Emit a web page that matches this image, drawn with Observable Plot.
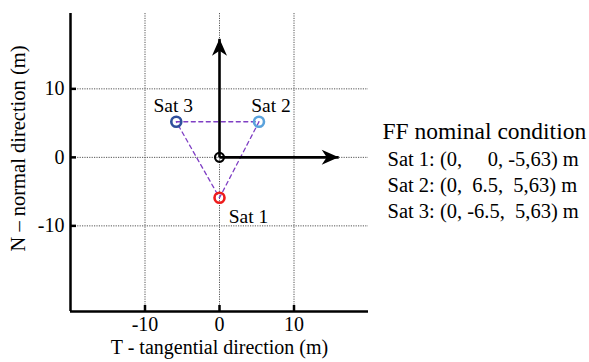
<!DOCTYPE html>
<html>
<head>
<meta charset="utf-8">
<script src="https://cdn.jsdelivr.net/npm/d3@7"></script>
<script src="https://cdn.jsdelivr.net/npm/@observablehq/plot@0.6"></script>
<style>
  html, body { margin: 0; padding: 0; background: #fff; }
  #chart svg { display: block; }
</style>
</head>
<body>
<div id="chart"></div>
<script>
// ---- data ----
const xDomain = [-20, 20];
const yDomain = [-22.5, 21];
const xTicks = [-10, 0, 10];
const yTicks = [-10, 0, 10];
const xLabel = "T - tangential direction (m)";
const yLabel = "N \u2013 normal direction (m)";

const satNames = ["Sat 1", "Sat 2", "Sat 3"];
const satT = [0, 5.3, -5.8];
const satN = [-5.9, 5.2, 5.2];
const satColors = ["#ee1c1c", "#5aa2dc", "#2f4f9c"];

// triangle order: Sat 3 -> Sat 2 -> Sat 1 -> Sat 3
const triOrder = [2, 1, 0, 2];

// reference frame origin and arrow tips
const originT = [0];
const originN = [0];
const arrowTipT = [0, 16];
const arrowTipN = [17.3, 0];
const arrowDir = [0, 90];

const legendTitle = "FF nominal condition";
const legendLines = [
  "Sat 1: (0,\u00a0\u00a0\u00a0\u00a0 0, -5,63) m",
  "Sat 2: (0,\u00a0 6.5,\u00a0 5,63) m",
  "Sat 3: (0, -6.5,\u00a0 5,63) m"
];

// ---- derived tables ----
const sats = satNames.map((name, i) => ({name, t: satT[i], n: satN[i], color: satColors[i]}));
const tri = triOrder.map(i => sats[i]);
const arrows = arrowTipT.map((t, i) => ({t0: originT[0], n0: originN[0], t, n: arrowTipN[i], rot: arrowDir[i]}));

const headSymbol = {
  draw(context) {
    context.moveTo(0, 0);
    context.lineTo(-7.5, 17);
    context.lineTo(0, 12);
    context.lineTo(7.5, 17);
    context.closePath();
  }
};

const font = "'Liberation Serif', 'Times New Roman', serif";
const fmt = d => String(d);

const chart = Plot.plot({
  width: 589,
  height: 362,
  marginLeft: 70,
  marginRight: 221,
  marginTop: 13,
  marginBottom: 51,
  style: {fontFamily: font, background: "#fff", color: "#000"},
  x: {domain: xDomain, label: null},
  y: {domain: yDomain, label: null},
  marks: [
    Plot.gridX(xTicks, {stroke: "#555", strokeOpacity: 1, strokeDasharray: "1.2,1.2", strokeWidth: 1}),
    Plot.gridY(yTicks, {stroke: "#555", strokeOpacity: 1, strokeDasharray: "1.2,1.2", strokeWidth: 1}),
    // tick marks (inward)
    Plot.axisX({ticks: xTicks, tickSize: -6, strokeWidth: 2.5, tickFormat: () => "", label: null}),
    Plot.axisY({ticks: yTicks, tickSize: -6, strokeWidth: 2.5, tickFormat: () => "", label: null}),
    // tick labels
    Plot.axisX({ticks: xTicks, tickSize: 0, tickPadding: 5, fontSize: 20, tickFormat: fmt, label: null}),
    Plot.axisY({ticks: yTicks, tickSize: 0, tickPadding: 6, fontSize: 20, tickFormat: fmt, label: null}),
    // axis lines
    Plot.ruleX([xDomain[0]], {stroke: "#000", strokeWidth: 2.5}),
    Plot.ruleY([yDomain[0]], {stroke: "#000", strokeWidth: 2.5}),
    // axis titles
    Plot.text([xLabel], {frameAnchor: "bottom", dy: 42, fontSize: 20, fill: "#000"}),
    Plot.text([yLabel], {frameAnchor: "left", dx: -52, dy: -14, rotate: -90, textAnchor: "middle", fontSize: 20.5, fill: "#000"}),
    // formation triangle
    Plot.line(tri, {x: "t", y: "n", stroke: "#7f3fc4", strokeWidth: 1.3, strokeDasharray: "4,3.5"}),
    // reference arrows
    Plot.link(arrows, {x1: "t0", y1: "n0", x2: "t", y2: "n", stroke: "#000", strokeWidth: 2.6}),
    Plot.dot(arrows, {x: "t", y: "n", rotate: "rot", symbol: headSymbol, fill: "#000", stroke: "none"}),
    Plot.dot(originT.map((t, i) => ({t, n: originN[i]})), {x: "t", y: "n", r: 4.5, stroke: "#000", strokeWidth: 2.2, fill: "none"}),
    // satellites
    Plot.dot(sats, {x: "t", y: "n", r: 5, stroke: "color", strokeWidth: 2.6, fill: "none"}),
    Plot.text(sats.filter(d => d.name === "Sat 3"), {x: "t", y: "n", text: "name", dx: -3, dy: -16, fontSize: 19.5, fill: "#000"}),
    Plot.text(sats.filter(d => d.name === "Sat 2"), {x: "t", y: "n", text: "name", dx: 12, dy: -16, fontSize: 19.5, fill: "#000"}),
    Plot.text(sats.filter(d => d.name === "Sat 1"), {x: "t", y: "n", text: "name", dx: 29, dy: 19, fontSize: 19.5, fill: "#000"}),
    // legend text at right
    Plot.text([legendTitle], {frameAnchor: "right", dx: 14, dy: -31, textAnchor: "start", fontSize: 23.5, fill: "#000"}),
    Plot.text([legendLines.join("\n")], {frameAnchor: "right", dx: 19, dy: 21, textAnchor: "start", fontSize: 20.5, lineHeight: 1.27, fill: "#000"})
  ]
});
document.getElementById("chart").appendChild(chart);
</script>
</body>
</html>
